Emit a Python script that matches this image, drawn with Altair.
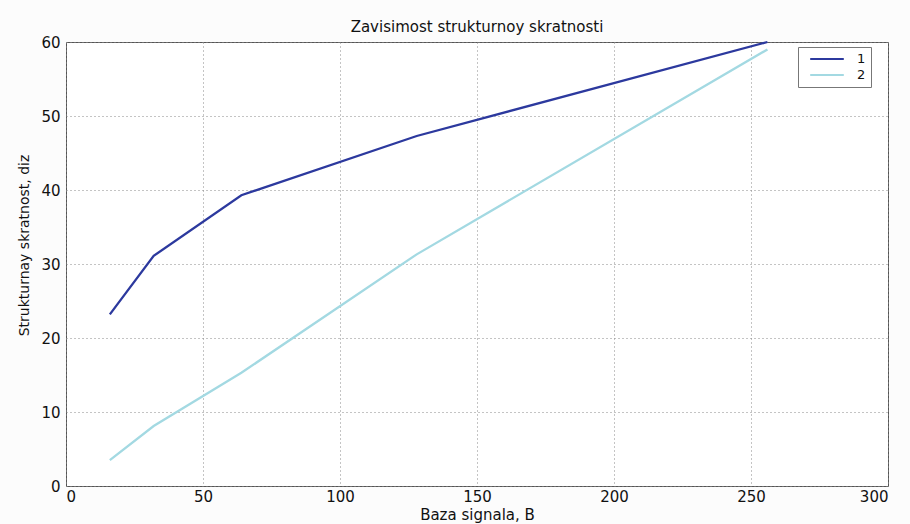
import altair as alt
import pandas as pd

x_vals = [16, 32, 64, 128, 256]
series_1 = [23.2, 31.1, 39.3, 47.3, 60.0]
series_2 = [3.5, 8.1, 15.3, 31.3, 59.0]
series_names = ["1", "2"]
colors = ["#2c399e", "#a3d9e2"]

rows = []
for name, vals in zip(series_names, [series_1, series_2]):
    for xv, yv in zip(x_vals, vals):
        rows.append({"B": xv, "val": yv, "series": name})
df = pd.DataFrame(rows)

FONT = "DejaVu Sans"

chart = alt.Chart(df).mark_line(strokeWidth=2.3).encode(
    x=alt.X("B:Q", scale=alt.Scale(domain=[0, 300], nice=False, zero=False),
            axis=alt.Axis(values=[0, 50, 100, 150, 200, 250, 300], title="Baza signala, B",
                          grid=True, gridDash=[1, 3], gridColor="#888", gridWidth=1,
                          ticks=False, domain=False, labelPadding=3,
                          labelFontSize=15, labelFont=FONT, labelColor="#111",
                          titleFont=FONT, titleFontSize=15, titleFontWeight="normal",
                          titleColor="#111", titleX=411, titleY=28, titleBaseline="middle")),
    y=alt.Y("val:Q", scale=alt.Scale(domain=[0, 60], nice=False),
            axis=alt.Axis(values=[0, 10, 20, 30, 40, 50, 60], title="Strukturnay skratnost, diz",
                          grid=True, gridDash=[1, 3], gridColor="#888", gridWidth=1,
                          ticks=False, domain=False, labelPadding=6,
                          labelFontSize=15, labelFont=FONT, labelColor="#111",
                          titleFont=FONT, titleFontSize=14, titleFontWeight="normal",
                          titleColor="#111", titleX=-42, titleY=203, titleAngle=-90,
                          titleAlign="center", titleBaseline="middle")),
    color=alt.Color("series:N", scale=alt.Scale(domain=series_names, range=colors),
                    legend=alt.Legend(title=None, orient="none", legendX=732, legendY=5,
                                      symbolType="M-2.8,0H2.8", symbolSize=144, symbolStrokeWidth=2,
                                      labelFontSize=13, labelFont=FONT, labelColor="#111",
                                      labelOffset=23, padding=5, symbolOffset=17,
                                      strokeColor="#777", fillColor="white", rowPadding=2)),
).properties(
    width=822, height=444,
    title=alt.TitleParams("Zavisimost strukturnoy skratnosti", font=FONT, fontSize=15,
                          fontWeight="normal", color="#111", offset=0),
    autosize=alt.AutoSizeParams(type="none"),
    padding={"left": 66, "top": 42, "right": 22, "bottom": 38},
    background="#fcfcfc",
).configure_view(stroke="#555", strokeWidth=1, fill="white")

chart.save("out.html", embed_options={"renderer": "svg", "actions": False})
